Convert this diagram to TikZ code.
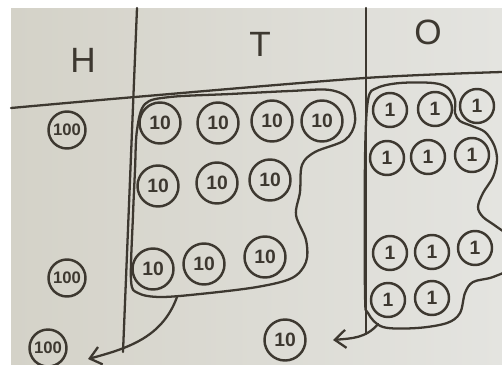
\documentclass[tikz,border=0pt]{standalone}
\usepackage{fontspec}
\setmainfont{Liberation Sans}
\usepackage{xcolor}
\usetikzlibrary{arrows.meta}
\definecolor{BoardInk}{HTML}{3D3830}
\definecolor{BoardGrey}{HTML}{D4D2C8}
\definecolor{BoardGlare}{HTML}{E4E4E0}
\tikzset{
  coin/.style={circle,draw=BoardInk,line width=1.4pt,inner sep=0pt,text=BoardInk,
    font=\fontsize{11}{11}\selectfont\bfseries},
  hundred/.style={coin,minimum size=7.4mm,font=\fontsize{9.5}{9.5}\selectfont\bfseries},
  ten/.style={coin,minimum size=8.2mm},
  one/.style={coin,minimum size=6.8mm},
  header/.style={text=BoardInk,font=\fontsize{20}{20}\selectfont},
  rule/.style={draw=BoardInk,line width=1.3pt,line cap=round},
  group/.style={rule,line join=round},
  move/.style={-{Straight Barb[length=2.2mm,width=3.6mm]},rule}
}

\begin{document}
\begin{tikzpicture}[x=0.2mm,y=-0.2mm]
  \useasboundingbox (0,0) rectangle (502,364);
  \clip (0,0) rectangle (502,364);
  \fill[white] (0,0) rectangle (502,364);
  \shade[left color=BoardGrey,right color=BoardGlare] (11,8) rectangle (502,364);
  \draw[rule] (137,8) -- (123,352);
  \draw[rule] (366,8) -- (366,334);
  \draw[rule] plot[smooth] coordinates {(11,108) (135,97) (365,78) (502,72)};
  \node[header] (hdrH) at (83,60) {H};
  \node[header] (hdrT) at (260,44) {T};
  \node[header] (hdrO) at (428,32) {O};
  \node[hundred] (h1) at (67,130) {100};
  \node[hundred] (h2) at (67,278) {100};
  \node[hundred] (h3) at (48,348) {100};
  \node[ten] (t1) at (160,123) {10}; \node[ten] (t2) at (218,123) {10};
  \node[ten] (t3) at (272,121) {10}; \node[ten] (t4) at (322,121) {10};
  \node[ten] (t5) at (158,186) {10}; \node[ten] (t6) at (217,183) {10};
  \node[ten] (t7) at (270,180) {10};
  \node[ten] (t8) at (153,269) {10}; \node[ten] (t9) at (204,264) {10};
  \node[ten] (t10) at (265,257) {10};
  \node[ten] (tspare) at (285,340) {10};
  \node[one] (o1) at (390,110) {1}; \node[one] (o2) at (435,109) {1};
  \node[one] (o3) at (477,106) {1};
  \node[one] (o4) at (387,158) {1}; \node[one] (o5) at (428,157) {1};
  \node[one] (o6) at (472,155) {1};
  \node[one] (o7) at (390,253) {1}; \node[one] (o8) at (432,252) {1};
  \node[one] (o9) at (475,248) {1};
  \node[one] (o10) at (388,300) {1}; \node[one] (o11) at (432,298) {1};
  \draw[group] plot[smooth cycle,tension=0.55] coordinates {(137,130) (145,104) (170,97)
    (230,94) (290,91) (330,90) (350,100) (355,122) (345,140) (315,152) (302,165)
    (300,192) (296,215) (306,240) (306,262) (292,278) (257,287) (200,294) (160,297)
    (138,293) (131,280) (133,215) (135,170)};
  \draw[group] plot[smooth cycle,tension=0.55] coordinates {(368,100) (377,88) (400,83)
    (433,83) (448,88) (455,100) (455,113) (460,121) (472,126) (485,132) (494,145)
    (497,160) (493,177) (483,193) (478,207) (483,217) (497,227) (512,240) (512,266)
    (493,277) (473,282) (465,293) (460,313) (447,323) (417,328) (383,327) (368,313)
    (365,293) (365,160)};
  \coordinate (tout) at (177,297);
  \coordinate (ttip) at (88,359);
  \coordinate (oout) at (378,324);
  \coordinate (otip) at (333,340);
  \draw[move] (tout) to[out=-110,in=15] (ttip);
  \draw[move] (oout) to[out=-130,in=5] (otip);
\end{tikzpicture}
\end{document}
